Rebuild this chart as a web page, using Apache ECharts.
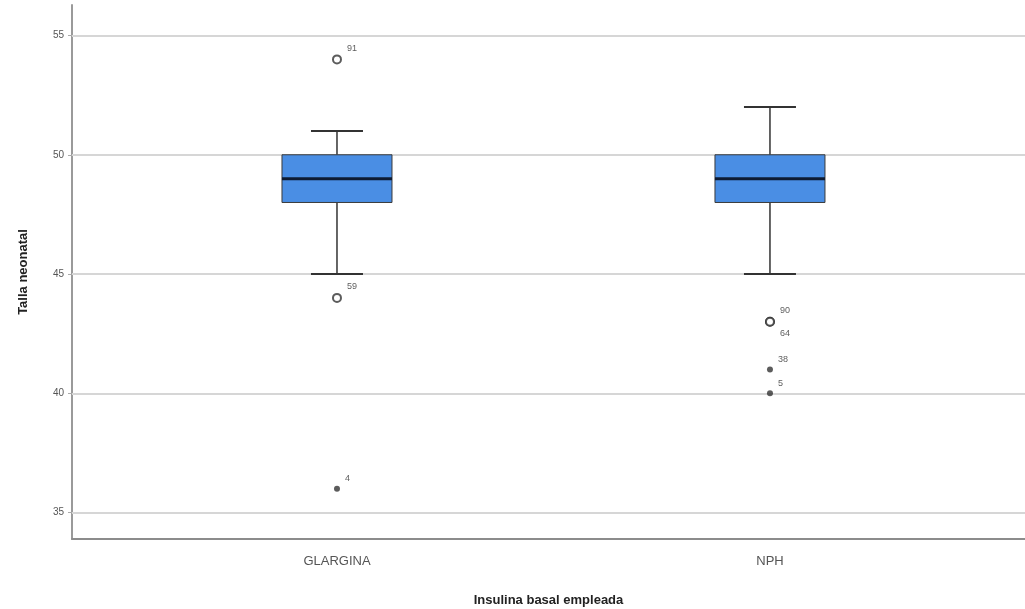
<!DOCTYPE html>
<html>
<head>
<meta charset="utf-8">
<script src="https://cdn.jsdelivr.net/npm/echarts@6/dist/echarts.min.js"></script>
<style>
html,body{margin:0;padding:0;background:#fff;}
#chart{width:1025px;height:609px;}
</style>
</head>
<body>
<div id="chart"></div>
<script>
// ---- data ----
var categories = ['GLARGINA', 'NPH'];
// [lower whisker, Q1, median, Q3, upper whisker]
var boxValues = [
  [45, 48, 49, 50, 51],
  [45, 48, 49, 50, 52]
];
// outliers (circles)
var outlierCat = [0, 0, 1, 1];
var outlierVal = [54, 44, 43, 43];
var outlierId  = ['91', '59', '90', '64'];
// extremes (stars)
var extremeCat = [0, 1, 1];
var extremeVal = [36, 41, 40];
var extremeId  = ['4', '38', '5'];
var yTicks = [35, 40, 45, 50, 55];

// ---- build ----
var boxData = boxValues.map(function (v, i) { return [i + 1].concat(v); });
var outData = outlierVal.map(function (v, i) {
  return { value: [outlierCat[i] + 1, v], name: outlierId[i],
    label: { offset: (outlierId[i] === '64') ? [3, 12] : [3, -11] } };
});
var extData = extremeVal.map(function (v, i) {
  return { value: [extremeCat[i] + 1, v], name: extremeId[i] };
});

var chart = echarts.init(document.getElementById('chart'), null, { renderer: 'canvas' });
var axisTextColor = '#555';
var option = {
  animation: false,
  backgroundColor: '#fff',
  grid: { left: 72, right: 0, top: 5, bottom: 70, outerBoundsMode: 'none', containLabel: false },
  xAxis: {
    type: 'value',
    min: 0.388, max: 2.589,
    name: 'Insulina basal empleada',
    nameLocation: 'middle',
    nameGap: 55,
    nameTextStyle: { fontFamily: 'Liberation Sans', fontWeight: 'bold', fontSize: 13, color: '#222' },
    axisLine: { show: true, lineStyle: { color: '#8c8c8c', width: 2 } },
    axisTick: { show: false },
    splitLine: { show: false },
    axisLabel: {
      customValues: [1, 2],
      formatter: function (v) { return categories[Math.round(v) - 1] || ''; },
      margin: 16,
      fontFamily: 'Liberation Sans', fontSize: 13, color: '#555'
    }
  },
  yAxis: {
    type: 'value',
    min: 33.89, max: 56.28,
    name: 'Talla neonatal',
    nameLocation: 'middle',
    nameGap: 42,
    nameRotate: 90,
    nameTextStyle: { fontFamily: 'Liberation Sans', fontWeight: 'bold', fontSize: 13, color: '#222' },
    axisLine: { show: true, lineStyle: { color: '#9a9a9a', width: 2 } },
    axisTick: { show: true, customValues: yTicks, length: 4, lineStyle: { color: '#aaa' } },
    splitLine: { show: false },
    axisLabel: { customValues: yTicks, fontFamily: 'Liberation Sans', fontSize: 10, color: axisTextColor, margin: 8 }
  },
  series: [
    {
      type: 'custom',
      data: boxData,
      z: 3,
      renderItem: function (params, api) {
        var x = api.value(0);
        var lo = api.coord([x, api.value(1)]);
        var q1 = api.coord([x, api.value(2)]);
        var md = api.coord([x, api.value(3)]);
        var q3 = api.coord([x, api.value(4)]);
        var hi = api.coord([x, api.value(5)]);
        var cx = lo[0];
        var bw = 110, cw = 52;
        var ws = { stroke: '#333', lineWidth: 1.5 };
        return {
          type: 'group',
          children: [
            { type: 'line', shape: { x1: cx, y1: hi[1], x2: cx, y2: q3[1] }, style: ws },
            { type: 'line', shape: { x1: cx, y1: q1[1], x2: cx, y2: lo[1] }, style: ws },
            { type: 'line', shape: { x1: cx - cw / 2, y1: hi[1], x2: cx + cw / 2, y2: hi[1] }, style: { stroke: '#333', lineWidth: 2 } },
            { type: 'line', shape: { x1: cx - cw / 2, y1: lo[1], x2: cx + cw / 2, y2: lo[1] }, style: { stroke: '#333', lineWidth: 2 } },
            { type: 'rect', shape: { x: cx - bw / 2, y: q3[1], width: bw, height: q1[1] - q3[1] },
              style: { fill: '#4a8ee4', stroke: '#3a3a3a', lineWidth: 1 } },
            { type: 'line', shape: { x1: cx - bw / 2, y1: md[1], x2: cx + bw / 2, y2: md[1] }, style: { stroke: '#0d1b33', lineWidth: 3 } }
          ]
        };
      },
      markLine: {
        silent: true,
        symbol: 'none',
        label: { show: false },
        lineStyle: { color: '#d6d6d6', width: 2, type: 'solid' },
        z: 1,
        data: yTicks.map(function (t) { return { yAxis: t }; })
      }
    },
    {
      type: 'scatter',
      data: outData,
      symbol: 'emptyCircle',
      symbolSize: 8,
      z: 4,
      itemStyle: { color: '#333', borderColor: '#333', borderWidth: 1.1 },
      label: { show: true, position: 'right', formatter: '{b}', fontFamily: 'Liberation Sans', fontSize: 9, color: '#333', distance: 2 }
    },
    {
      type: 'scatter',
      data: extData,
      symbol: 'circle',
      symbolSize: 6,
      z: 4,
      itemStyle: { color: '#333' },
      label: { show: true, position: 'right', formatter: '{b}', fontFamily: 'Liberation Sans', fontSize: 9, color: '#333', distance: 3, offset: [2, -10] }
    }
  ]
};
chart.setOption(option);
</script>
</body>
</html>
